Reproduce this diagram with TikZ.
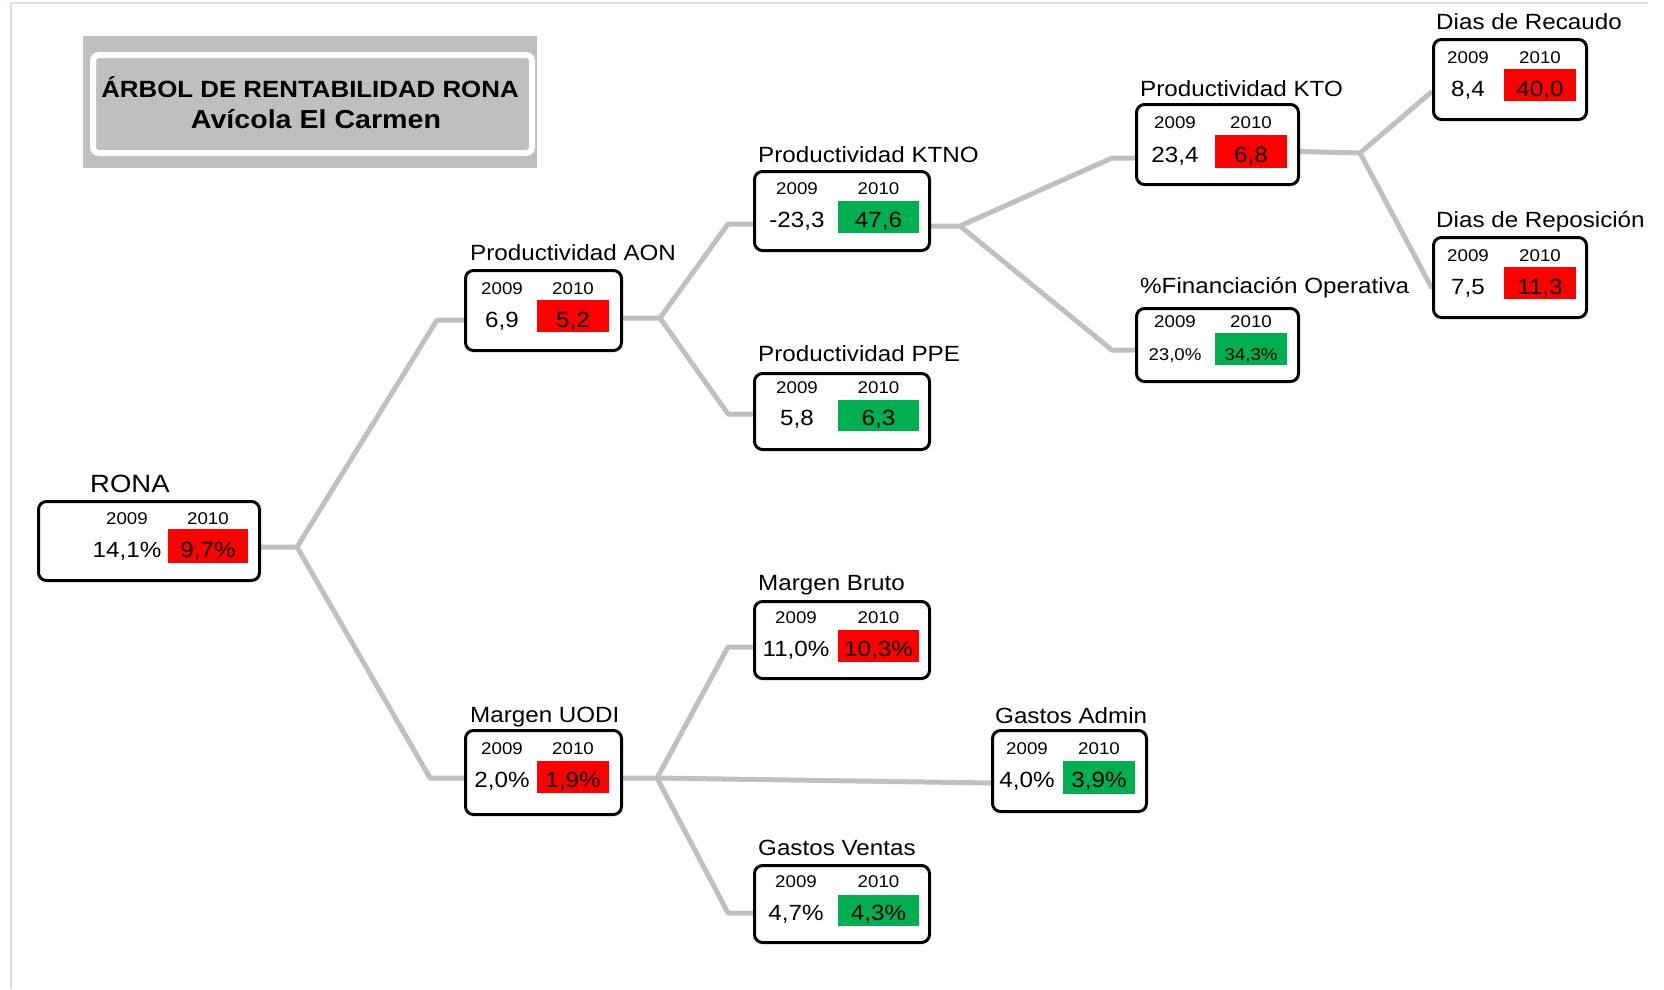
\documentclass[tikz,border=0pt]{standalone}
\usepackage{fontspec}
\setmainfont{Liberation Sans}[FakeStretch=1.1]
\usetikzlibrary{calc,backgrounds}
\definecolor{kred}{RGB}{255,0,0}
\definecolor{kgreen}{RGB}{0,176,80}
\definecolor{conn}{RGB}{192,192,192}
\definecolor{tgray}{RGB}{191,191,191}
\definecolor{pageframe}{RGB}{218,222,232}
\newcommand\kvalfont{\fontsize{22}{26}\selectfont}
\tikzset{
 kbox/.style={draw=black, line width=3pt, rounded corners=8pt, fill=white, inner sep=0pt},
 yr/.style={font=\fontsize{17}{20}\selectfont, inner sep=0pt, anchor=base},
 val/.style={font=\kvalfont, inner sep=0pt, anchor=base},
 ttl/.style={font=\fontsize{22}{26}\selectfont, inner sep=0pt, anchor=base west},
 link/.style={draw=conn, line width=5pt, line join=round},
 vrect/.style={inner sep=0pt, anchor=north west},
}
\newcommand\kpiA[9]{\def\kn{#1}\def\kl{#2}\def\kt{#3}\def\kw{#4}\def\kh{#5}\def\kx{#6}\def\krl{#7}\def\krr{#8}\def\krt{#9}}
\newcommand\kpiB[6]{%
 \pgfmathsetmacro\krw{\krr-\krl}\pgfmathsetmacro\krh{#1-\krt}\pgfmathsetmacro\krc{(\krl+\krr)/2}%
 \node[kbox, minimum width=\kw pt, minimum height=\kh pt, anchor=north west] (\kn) at (\kl,\kt) {};
 \node[vrect, fill=#6, minimum width=\krw pt, minimum height=\krh pt] (\kn-r) at (\krl,\krt) {};
 \node[yr] (\kn-ya) at (\kx,#2) {2009};
 \node[yr] (\kn-yb) at (\krc,#2) {2010};
 \node[val] (\kn-va) at (\kx,#3) {#4};
 \node[val] (\kn-vb) at (\krc,#3) {#5};
}
\begin{document}
\begin{tikzpicture}[x=1pt,y=-1pt]
\useasboundingbox (0,0) rectangle (1664,989);
\draw[pageframe, line width=1.2pt] (11,989) -- (11,3) -- (1648,3);

% header
\node[fill=tgray, minimum width=454pt, minimum height=132pt, anchor=north west, inner sep=0pt] (hdr) at (83,36) {};
\node[draw=white, line width=6pt, rounded corners=6pt, fill=tgray, minimum width=439pt, minimum height=98pt, anchor=north west, inner sep=0pt] (hdrin) at (90,52) {};
\node[font=\bfseries\fontsize{23.5}{30}\selectfont, anchor=base, inner sep=0pt] (h1) at (310,97) {ÁRBOL DE RENTABILIDAD RONA};
\node[font=\bfseries\fontsize{26}{30}\selectfont, anchor=base, inner sep=0pt] (h2) at (316,128) {Avícola El Carmen};

% boxes
\kpiA{rona}{37}{500}{221}{79}{127}{168}{248}{529}\kpiB{563}{524}{557}{14,1\%}{9,7\%}{kred}
\kpiA{aon}{464}{269}{156}{80}{502}{537}{609}{300}\kpiB{332}{294}{327}{6,9}{5,2}{kred}
\kpiA{ktno}{753}{170}{175}{79}{797}{838}{919}{201}\kpiB{233}{194}{227}{-23,3}{47,6}{kgreen}
\kpiA{ppe}{753}{372}{175}{76}{797}{838}{919}{400}\kpiB{431}{393}{425}{5,8}{6,3}{kgreen}
\kpiA{kto}{1135}{103}{162}{80}{1175}{1215}{1287}{135}\kpiB{168}{128}{162}{23,4}{6,8}{kred}
\renewcommand\kvalfont{\fontsize{17}{20}\selectfont}
\kpiA{fin}{1135}{307}{162}{73}{1175}{1215}{1287}{333}\kpiB{365}{327}{360}{23,0\%}{34,3\%}{kgreen}
\renewcommand\kvalfont{\fontsize{22}{26}\selectfont}
\kpiA{rec}{1432}{38}{153}{80}{1468}{1504}{1576}{69}\kpiB{101}{63}{96}{8,4}{40,0}{kred}
\kpiA{rep}{1432}{236}{153}{80}{1468}{1504}{1576}{267}\kpiB{299}{261}{294}{7,5}{11,3}{kred}
\kpiA{bruto}{753}{600}{175}{77}{796}{838}{919}{630}\kpiB{662}{623}{656}{11,0\%}{10,3\%}{kred}
\kpiA{uodi}{464}{729}{156}{84}{502}{537}{609}{761}\kpiB{793}{754}{787}{2,0\%}{1,9\%}{kred}
\kpiA{admin}{991}{729}{154}{81}{1027}{1063}{1135}{761}\kpiB{794}{754}{787}{4,0\%}{3,9\%}{kgreen}
\kpiA{ventas}{753}{864}{175}{77}{796}{838}{919}{895}\kpiB{926}{887}{920}{4,7\%}{4,3\%}{kgreen}

% titles
\node[ttl, font=\fontsize{25}{30}\selectfont] (rona-t) at (90,492) {RONA};
\node[ttl] (aon-t) at (470,260) {Productividad AON};
\node[ttl] (ktno-t) at (758,162) {Productividad KTNO};
\node[ttl] (ppe-t) at (758,361) {Productividad PPE};
\node[ttl] (kto-t) at (1140,96) {Productividad KTO};
\node[ttl] (fin-t) at (1140,293) {\%Financiación Operativa};
\node[ttl] (rec-t) at (1436,29) {Dias de Recaudo};
\node[ttl] (rep-t) at (1436,227) {Dias de Reposición};
\node[ttl] (bruto-t) at (758,590) {Margen Bruto};
\node[ttl] (uodi-t) at (470,722) {Margen UODI};
\node[ttl] (admin-t) at (995,723) {Gastos Admin};
\node[ttl] (ventas-t) at (758,855) {Gastos Ventas};

% connectors
\coordinate (j0) at (297,547);
\coordinate (b1) at (437,320);
\coordinate (b2) at (430,778);
\coordinate (j1) at (660,318);
\coordinate (b3) at (728,224);
\coordinate (b4) at (728,414);
\coordinate (j2) at (960,226);
\coordinate (b5) at (1112,158);
\coordinate (b6) at (1112,350);
\coordinate (j3) at (1360,153);
\coordinate (j4) at (657,778);
\coordinate (b7) at (728,647);
\coordinate (b8) at (728,913);
\begin{pgfonlayer}{background}
\draw[link] (rona.east |- j0) -- (j0) -- (b1) -- (aon.west |- b1);
\draw[link] (j0) -- (b2) -- (uodi.west |- b2);
\draw[link] (aon.east |- j1) -- (j1) -- (b3) -- (ktno.west |- b3);
\draw[link] (j1) -- (b4) -- (ppe.west |- b4);
\draw[link] (ktno.east |- j2) -- (j2) -- (b5) -- (kto.west |- b5);
\draw[link] (j2) -- (b6) -- (fin.west |- b6);
\draw[link] ($(kto.east)+(0,7)$) -- (j3) -- ($(rec.west)+(0,12)$);
\draw[link] (j3) -- ($(rep.west)+(0,11)$);
\draw[link] (uodi.east |- j4) -- (j4) -- (b7) -- (bruto.west |- b7);
\draw[link] (j4) -- ($(admin.west)+(0,12)$);
\draw[link] (j4) -- (b8) -- (ventas.west |- b8);
\end{pgfonlayer}
\end{tikzpicture}
\end{document}
